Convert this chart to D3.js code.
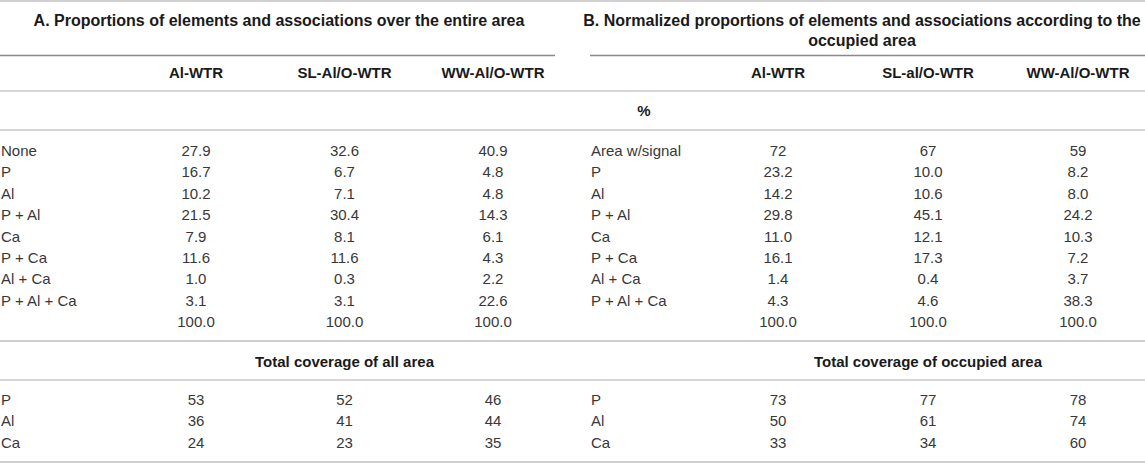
<!DOCTYPE html>
<html lang="en">
<head>
  <meta charset="UTF-8">
  <title>Proportions of elements and associations</title>
  <style>
    body {
      margin: 0;
      background: #fff;
    }
    svg {
      display: block;
      font-family: "Liberation Sans", Arial, Helvetica, sans-serif;
    }
    text {
      font-size: 15px;
      fill: #383838;
    }
    text.bold {
      font-weight: bold;
      fill: #1a1a1a;
    }
    text.title {
      font-size: 16px;
    }
  </style>
</head>
<body>
  <svg></svg>

  <script src="https://d3js.org/d3.v7.min.js"></script>
  <script>
    // column headers
    const colsA = ["Al-WTR", "SL-Al/O-WTR", "WW-Al/O-WTR"];
    const colsB = ["Al-WTR", "SL-al/O-WTR", "WW-Al/O-WTR"];

    // row labels
    const rowsA = ["None", "P", "Al", "P + Al", "Ca", "P + Ca", "Al + Ca", "P + Al + Ca", ""];
    const rowsB = ["Area w/signal", "P", "Al", "P + Al", "Ca", "P + Ca", "Al + Ca", "P + Al + Ca", ""];

    // A. proportions over the entire area
    const alWtrA = [27.9, 16.7, 10.2, 21.5, 7.9, 11.6, 1.0, 3.1, 100.0];
    const slWtrA = [32.6, 6.7, 7.1, 30.4, 8.1, 11.6, 0.3, 3.1, 100.0];
    const wwWtrA = [40.9, 4.8, 4.8, 14.3, 6.1, 4.3, 2.2, 22.6, 100.0];

    // B. normalized proportions (first row is area with signal, %)
    const alWtrB = [72, 23.2, 14.2, 29.8, 11.0, 16.1, 1.4, 4.3, 100.0];
    const slWtrB = [67, 10.0, 10.6, 45.1, 12.1, 17.3, 0.4, 4.6, 100.0];
    const wwWtrB = [59, 8.2, 8.0, 24.2, 10.3, 7.2, 3.7, 38.3, 100.0];

    // total coverage
    const coverRows = ["P", "Al", "Ca"];
    const coverAllAl = [53, 36, 24];
    const coverAllSl = [52, 41, 23];
    const coverAllWw = [46, 44, 35];
    const coverOccAl = [73, 50, 33];
    const coverOccSl = [77, 61, 34];
    const coverOccWw = [78, 74, 60];

    const width = 1145;
    const height = 463;

    const svg = d3.select("svg")
      .attr("width", width)
      .attr("height", height)
      .attr("viewBox", [0, 0, width, height]);

    const xA = d3.scalePoint().domain(colsA).range([196, 493]);
    const xB = d3.scalePoint().domain(colsB).range([778, 1078]);
    const yBody = d3.scalePoint().domain(d3.range(rowsA.length)).range([156, 327]);
    const yCover = d3.scalePoint().domain(d3.range(coverRows.length)).range([404.5, 448]);

    const f1 = d3.format(".1f");
    const fInt = d3.format("d");

    // rules
    const rules = [
      {x1: 0, x2: width, y: 1, c: "#d0d0d0", w: 2},
      {x1: 0, x2: 555, y: 55.5, c: "#8a8a8a", w: 1.5},
      {x1: 590, x2: width, y: 55.5, c: "#8a8a8a", w: 1.5},
      {x1: 0, x2: width, y: 91, c: "#d6d6d6", w: 2},
      {x1: 0, x2: width, y: 130, c: "#d6d6d6", w: 2},
      {x1: 0, x2: width, y: 341, c: "#cfcfcf", w: 2},
      {x1: 0, x2: width, y: 380, c: "#d6d6d6", w: 2},
      {x1: 0, x2: width, y: 462, c: "#cfcfcf", w: 2}
    ];
    svg.append("g").selectAll("line")
      .data(rules)
      .join("line")
      .attr("x1", d => d.x1)
      .attr("x2", d => d.x2)
      .attr("y1", d => d.y)
      .attr("y2", d => d.y)
      .attr("stroke", d => d.c)
      .attr("stroke-width", d => d.w);

    // titles
    svg.append("text").attr("class", "bold title")
      .attr("x", 279).attr("y", 26).attr("text-anchor", "middle")
      .text("A. Proportions of elements and associations over the entire area");
    svg.append("text").attr("class", "bold title")
      .attr("x", 862).attr("y", 26).attr("text-anchor", "middle")
      .text("B. Normalized proportions of elements and associations according to the");
    svg.append("text").attr("class", "bold title")
      .attr("x", 862).attr("y", 46).attr("text-anchor", "middle")
      .text("occupied area");

    // column headers
    svg.append("g").selectAll("text")
      .data(colsA)
      .join("text").attr("class", "bold")
      .attr("x", d => xA(d)).attr("y", 78).attr("text-anchor", "middle")
      .text(d => d);
    svg.append("g").selectAll("text")
      .data(colsB)
      .join("text").attr("class", "bold")
      .attr("x", d => xB(d)).attr("y", 78).attr("text-anchor", "middle")
      .text(d => d);

    svg.append("text").attr("class", "bold")
      .attr("x", 644).attr("y", 116).attr("text-anchor", "middle")
      .text("%");

    function drawBlock(labels, cols, series, x, labelX, y, fmt) {
      const g = svg.append("g");
      g.selectAll("text.lab")
        .data(labels)
        .join("text").attr("class", "lab")
        .attr("x", labelX).attr("y", (d, i) => y(i))
        .text(d => d);
      cols.forEach((c, j) => {
        g.selectAll("text.v" + j)
          .data(series[j])
          .join("text").attr("class", "v" + j)
          .attr("x", x(c)).attr("y", (d, i) => y(i))
          .attr("text-anchor", "middle")
          .text((d, i) => fmt(d, i));
      });
    }

    drawBlock(rowsA, colsA, [alWtrA, slWtrA, wwWtrA], xA, 1, yBody, d => f1(d));
    drawBlock(rowsB, colsB, [alWtrB, slWtrB, wwWtrB], xB, 591, yBody, (d, i) => i === 0 ? fInt(d) : f1(d));

    // total coverage sub-headers
    svg.append("text").attr("class", "bold")
      .attr("x", xA(colsA[1])).attr("y", 367).attr("text-anchor", "middle")
      .text("Total coverage of all area");
    svg.append("text").attr("class", "bold")
      .attr("x", xB(colsB[1])).attr("y", 367).attr("text-anchor", "middle")
      .text("Total coverage of occupied area");

    drawBlock(coverRows, colsA, [coverAllAl, coverAllSl, coverAllWw], xA, 1, yCover, d => fInt(d));
    drawBlock(coverRows, colsB, [coverOccAl, coverOccSl, coverOccWw], xB, 591, yCover, d => fInt(d));
  </script>
</body>
</html>
